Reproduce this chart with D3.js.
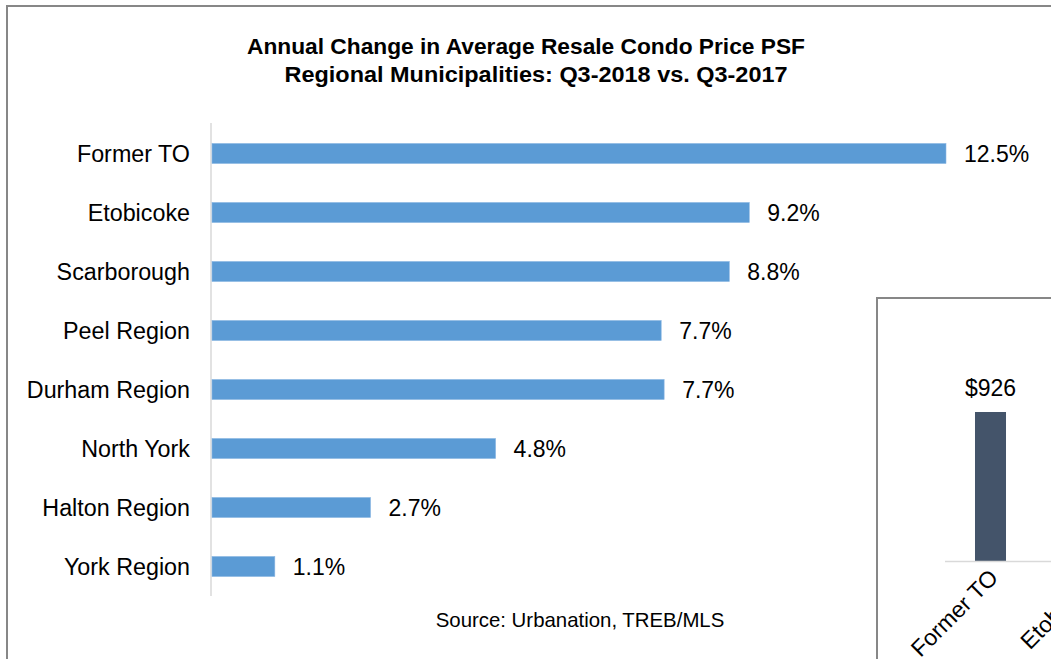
<!DOCTYPE html>
<html>
<head>
<meta charset="utf-8">
<script src="https://cdn.jsdelivr.net/npm/d3@7"></script>
<style>
  html, body { margin: 0; padding: 0; background: #fff; overflow: hidden; }
  svg { display: block; font-family: "Liberation Sans", Arial, sans-serif; }
</style>
</head>
<body>
<svg id="chart" width="1051" height="659"></svg>
<script>
// ---- Data ----
const titleLines = ["Annual Change in Average Resale Condo Price PSF",
                    "Regional Municipalities: Q3-2018 vs. Q3-2017"];
const sourceText = "Source: Urbanation, TREB/MLS";
const categories = ["Former TO", "Etobicoke", "Scarborough", "Peel Region",
                    "Durham Region", "North York", "Halton Region", "York Region"];
const changePct = [12.5, 9.15, 8.81, 7.65, 7.70, 4.83, 2.70, 1.07];

// second (overlapping) chart: average resale price PSF
const psfCategories = ["Former TO", "Etobicoke"];
const psfValues = [926];

// ---- Drawing ----
const svg = d3.select("#chart");

// outer frame of main chart
svg.append("rect")
  .attr("x", 7).attr("y", 6).attr("width", 1200).attr("height", 800)
  .attr("fill", "#fff").attr("stroke", "#878787").attr("stroke-width", 2);

// title
svg.append("text")
  .attr("x", 526).attr("y", 54)
  .attr("text-anchor", "middle")
  .attr("font-weight", "bold").attr("font-size", 22.5).attr("fill", "#000")
  .selectAll("tspan").data(titleLines).join("tspan")
  .attr("x", (d, i) => i === 0 ? 526 : 536)
  .attr("dy", (d, i) => i === 0 ? 0 : 28)
  .attr("textLength", (d, i) => i === 0 ? 558 : 503)
  .attr("lengthAdjust", "spacingAndGlyphs")
  .text(d => d);

const x = d3.scaleLinear().domain([0, 12.5]).range([212, 946]);
const y = d3.scaleBand().domain(categories).range([124, 596]).paddingInner(0.66).paddingOuter(0.33);

// vertical category axis line
svg.append("line")
  .attr("x1", 211).attr("x2", 211).attr("y1", 123).attr("y2", 596)
  .attr("stroke", "#d9d9d9").attr("stroke-width", 1.5);

// bars
svg.append("g").selectAll("rect").data(categories).join("rect")
  .attr("x", x(0))
  .attr("y", d => y(d))
  .attr("width", (d, i) => x(changePct[i]) - x(0))
  .attr("height", y.bandwidth())
  .attr("fill", "#5b9bd5")
  .attr("stroke", "#8db8e3").attr("stroke-width", 0.6);

// category labels
svg.append("g").selectAll("text").data(categories).join("text")
  .attr("x", 190)
  .attr("y", d => y(d) + y.bandwidth() / 2)
  .attr("dy", "0.36em")
  .attr("text-anchor", "end")
  .attr("font-size", 23.3).attr("fill", "#000")
  .text(d => d);

// value labels
svg.append("g").selectAll("text").data(categories).join("text")
  .attr("x", (d, i) => x(changePct[i]) + 18)
  .attr("y", d => y(d) + y.bandwidth() / 2)
  .attr("dy", "0.36em")
  .attr("font-size", 23).attr("fill", "#000")
  .text((d, i) => d3.format(".1f")(changePct[i]) + "%");

// source
svg.append("text")
  .attr("x", 580).attr("y", 627)
  .attr("text-anchor", "middle")
  .attr("font-size", 20.4).attr("fill", "#000")
  .text(sourceText);

// ---- second chart (partially visible) ----
const g2 = svg.append("g");
g2.append("rect")
  .attr("x", 877).attr("y", 298).attr("width", 600).attr("height", 600)
  .attr("fill", "#fff").attr("stroke", "#878787").attr("stroke-width", 2);

const x2 = d3.scaleBand().domain(psfCategories).range([939.5, 1143.5])
  .paddingInner(0.696).paddingOuter(0.348);
const y2 = d3.scaleLinear().domain([0, 926]).range([561, 412]);

g2.selectAll("rect.bar").data(psfValues).join("rect")
  .attr("class", "bar")
  .attr("x", (d, i) => x2(psfCategories[i]))
  .attr("y", d => y2(d))
  .attr("width", x2.bandwidth())
  .attr("height", d => y2(0) - y2(d))
  .attr("fill", "#44546a");

g2.append("line")
  .attr("x1", 945).attr("x2", 1100).attr("y1", 561.5).attr("y2", 561.5)
  .attr("stroke", "#d9d9d9").attr("stroke-width", 1.5);

g2.selectAll("text.val").data(psfValues).join("text")
  .attr("class", "val")
  .attr("x", (d, i) => x2(psfCategories[i]) + x2.bandwidth() / 2)
  .attr("y", d => y2(d) - 16)
  .attr("text-anchor", "middle")
  .attr("font-size", 23).attr("fill", "#000")
  .text(d => "$" + d3.format(",")(d));

g2.selectAll("text.cat").data(psfCategories).join("text")
  .attr("class", "cat")
  .attr("transform", d => `translate(${x2(d) + x2.bandwidth() / 2 + 9},${579}) rotate(-45)`)
  .attr("text-anchor", "end")
  .attr("font-size", 23).attr("fill", "#000")
  .text(d => d);
</script>
</body>
</html>
